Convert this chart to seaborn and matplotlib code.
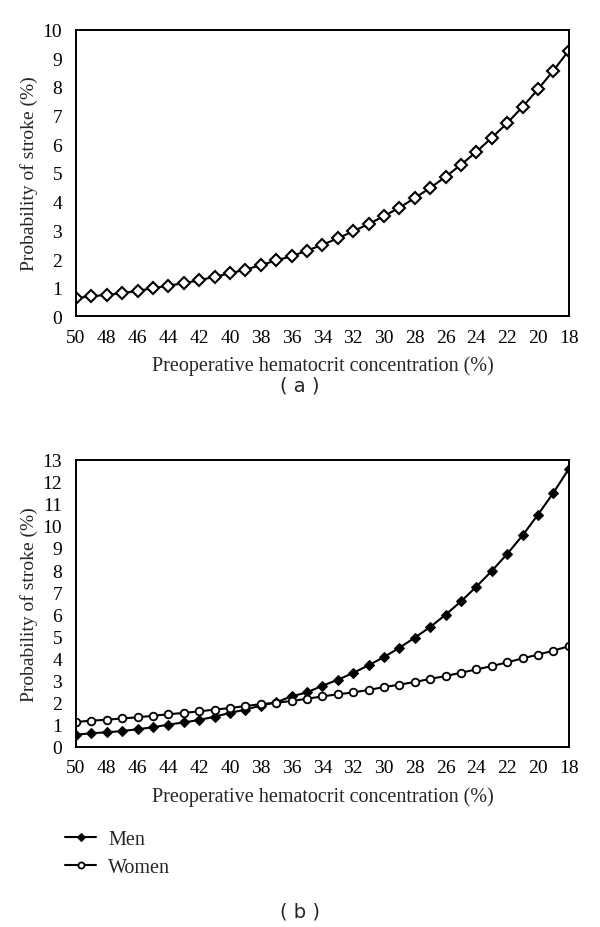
import numpy as np
import pandas as pd
import matplotlib
matplotlib.use("Agg")
import matplotlib.pyplot as plt
import seaborn as sns

# hematocrit values, 50 down to 18
hematocrit = list(range(50, 17, -1))

# panel (a): overall probability of stroke (%)
prob_all = [0.64, 0.70, 0.75, 0.81, 0.89, 0.98, 1.07, 1.16, 1.26, 1.38,
            1.50, 1.63, 1.79, 1.95, 2.10, 2.29, 2.50, 2.72, 2.97, 3.22,
            3.50, 3.79, 4.13, 4.48, 4.87, 5.29, 5.74, 6.23, 6.74, 7.31,
            7.92, 8.57, 9.27]

# panel (b): by sex
prob_men = [0.54, 0.61, 0.65, 0.71, 0.79, 0.88, 1.00, 1.10, 1.21, 1.36,
            1.53, 1.68, 1.86, 2.01, 2.28, 2.46, 2.76, 3.03, 3.34, 3.69,
            4.06, 4.48, 4.94, 5.42, 5.98, 6.58, 7.25, 7.96, 8.73, 9.57,
            10.51, 11.50, 12.58]
prob_women = [1.12, 1.18, 1.22, 1.28, 1.33, 1.40, 1.47, 1.53, 1.60, 1.68,
              1.75, 1.84, 1.93, 1.99, 2.07, 2.17, 2.28, 2.37, 2.46, 2.57,
              2.70, 2.81, 2.93, 3.07, 3.20, 3.35, 3.50, 3.65, 3.82, 4.00,
              4.17, 4.35, 4.55]

xticks = list(range(50, 17, -2))
xlabel = "Preoperative hematocrit concentration (%)"
ylabel = "Probability of stroke (%)"

sns.set_style("white")
plt.rcParams["font.family"] = ["Liberation Serif", "DejaVu Serif"]
plt.rcParams["axes.linewidth"] = 1.4
plt.rcParams["xtick.major.width"] = 1.4
plt.rcParams["ytick.major.width"] = 1.4

fig = plt.figure(figsize=(6, 9.28), dpi=100)

ax1 = fig.add_axes([0.1267, 0.658, 0.8213, 0.309])
ax2 = fig.add_axes([0.1267, 0.1943, 0.8213, 0.3093])

df_a = pd.DataFrame({"hct": hematocrit, "prob": prob_all})
sns.lineplot(data=df_a, x="hct", y="prob", ax=ax1, color="black",
             linewidth=1.5, marker="D", markersize=6,
             markerfacecolor="white", markeredgecolor="black",
             markeredgewidth=1.5)

df_b = pd.DataFrame({
    "hct": hematocrit * 2,
    "prob": prob_men + prob_women,
    "sex": ["Men"] * len(hematocrit) + ["Women"] * len(hematocrit),
})
sns.lineplot(data=df_b[df_b["sex"] == "Men"], x="hct", y="prob", ax=ax2,
             color="black", linewidth=1.5, marker="D", markersize=5.5,
             markerfacecolor="black", markeredgecolor="black",
             label="Men")
sns.lineplot(data=df_b[df_b["sex"] == "Women"], x="hct", y="prob", ax=ax2,
             color="black", linewidth=1.5, marker="o", markersize=5.5,
             markerfacecolor="white", markeredgecolor="black",
             markeredgewidth=1.3, label="Women")

for ax, ymax in [(ax1, 10), (ax2, 13)]:
    ax.set_xlim(50, 18)
    ax.set_ylim(0, ymax)
    ax.set_xticks(xticks)
    ax.set_yticks(range(0, ymax + 1))
    ax.tick_params(direction="out", length=4, labelsize=14,
                   color="black", labelcolor="black")
    ax.tick_params(axis="x", pad=5)
    ax.tick_params(axis="y", pad=6)
    ax.set_xlabel(xlabel, fontsize=14.5, labelpad=7)
    ax.set_ylabel(ylabel, fontsize=14, labelpad=3)
    for s in ax.spines.values():
        s.set_color("black")
        s.set_visible(True)

ax2.get_legend().remove()
handles, labels = ax2.get_legend_handles_labels()
fig.legend(handles, labels, loc="upper left",
           bbox_to_anchor=(0.078, 1 - 813 / 928),
           frameon=False, fontsize=14.5, handlelength=1.55,
           handletextpad=0.6, labelspacing=0.45, markerscale=0.8)

fig.text(0.5, 1 - 386 / 928, "( a )", ha="center", va="center",
         fontsize=14, family="DejaVu Sans")
fig.text(0.5, 1 - 912 / 928, "( b )", ha="center", va="center",
         fontsize=14, family="DejaVu Sans")

plt.savefig("out.png", dpi=100)
